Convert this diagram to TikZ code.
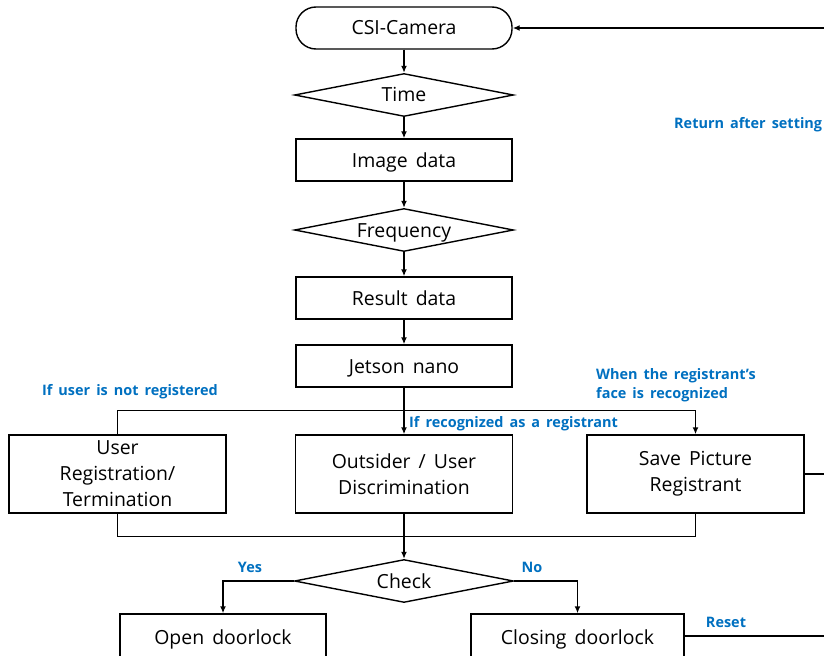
\documentclass[tikz,border=0pt]{standalone}
\usepackage{fontspec}
\setmainfont[WordSpace=1.6]{Open Sans}
\usetikzlibrary{shapes.geometric,arrows.meta}
\definecolor{notecol}{RGB}{0,112,192}
\tikzset{
  base/.style={draw, line width=1.4bp, font=\fontsize{19.5}{26}\selectfont, align=center, inner sep=0pt},
  oneline/.style={text height=14bp, text depth=0pt},
  proc/.style={base, oneline, rectangle, minimum width=216bp, minimum height=42bp},
  tallproc/.style={base, rectangle, minimum width=217bp, minimum height=78bp},
  decision/.style={base, oneline, diamond, shape aspect=5, minimum width=219bp, minimum height=43bp},
  startbox/.style={base, oneline, rectangle, rounded corners=20bp, minimum width=216bp, minimum height=42bp},
  flow/.style={line width=1.4bp},
  arr/.style={flow, -{Latex[length=7bp,width=6bp]}},
  note/.style={text=notecol, font=\bfseries\fontsize{14.5}{19}\selectfont, inner sep=0pt, align=left}
}
\begin{document}
\begin{tikzpicture}[x=1bp, y=-1bp]
\useasboundingbox (0,0) rectangle (824,656);
\clip (0,0) rectangle (824,656);

% main column
\node[startbox] (cam) at (404,28) {CSI-Camera};
\node[decision] (time) at (404,95) {Time};
\node[proc] (img) at (404,160) {Image data};
\node[decision] (freq) at (404,230) {Frequency};
\node[proc] (res) at (404,298) {Result data};
\node[proc] (jet) at (404,366) {Jetson nano};

% branch row
\node[tallproc] (usr) at (117.5,474) {User\\Registration/\\Termination};
\node[tallproc] (outs) at (404,474) {Outsider / User\\Discrimination};
\node[tallproc] (save) at (695.5,474) {Save Picture\\Registrant};

% decision and outcomes
\node[decision] (check) at (404,581) {Check};
\node[base, oneline, rectangle, minimum width=206bp, minimum height=46bp] (open) at (223,637) {Open doorlock};
\node[base, oneline, rectangle, minimum width=213bp, minimum height=46bp] (close) at (577.5,637) {Closing doorlock};

% loose ends leaving the right edge
\coordinate (retin) at (840,28);
\coordinate (saveout) at (840,474);
\coordinate (closeout) at (840,636);

% connectors
\draw[arr] (retin) -- (cam.east);
\draw[arr] (cam) -- (time);
\draw[arr] (time) -- (img);
\draw[arr] (img) -- (freq);
\draw[arr] (freq) -- (res);
\draw[arr] (res) -- (jet);
\draw[arr] (jet) -- (outs);
\draw[arr] (usr.north) -- ++(0,-24) -| (save.north);
\draw[flow] (usr.south) -- ++(0,23) -| (save.south);
\draw[arr] (outs) -- (check);
\draw[arr] (check.west) -| (open.north);
\draw[arr] (check.east) -| (close.north);
\draw[flow] (save.east) -- (saveout);
\draw[flow] (close.east |- closeout) -- (closeout);

% annotations
\node[note, anchor=west] (lret) at (674,125) {Return after setting};
\node[note] (lnot) at (130,392) {If user is not registered};
\node[note, anchor=west] (lrec) at (409,424) {If recognized as a registrant};
\node[note, anchor=north west] (lface) at (596,368) {When the registrant’s\\face is recognized};
\node[note] (lyes) at (250,567) {Yes};
\node[note] (lno) at (532,567) {No};
\node[note] (lreset) at (726,622) {Reset};
\end{tikzpicture}
\end{document}
